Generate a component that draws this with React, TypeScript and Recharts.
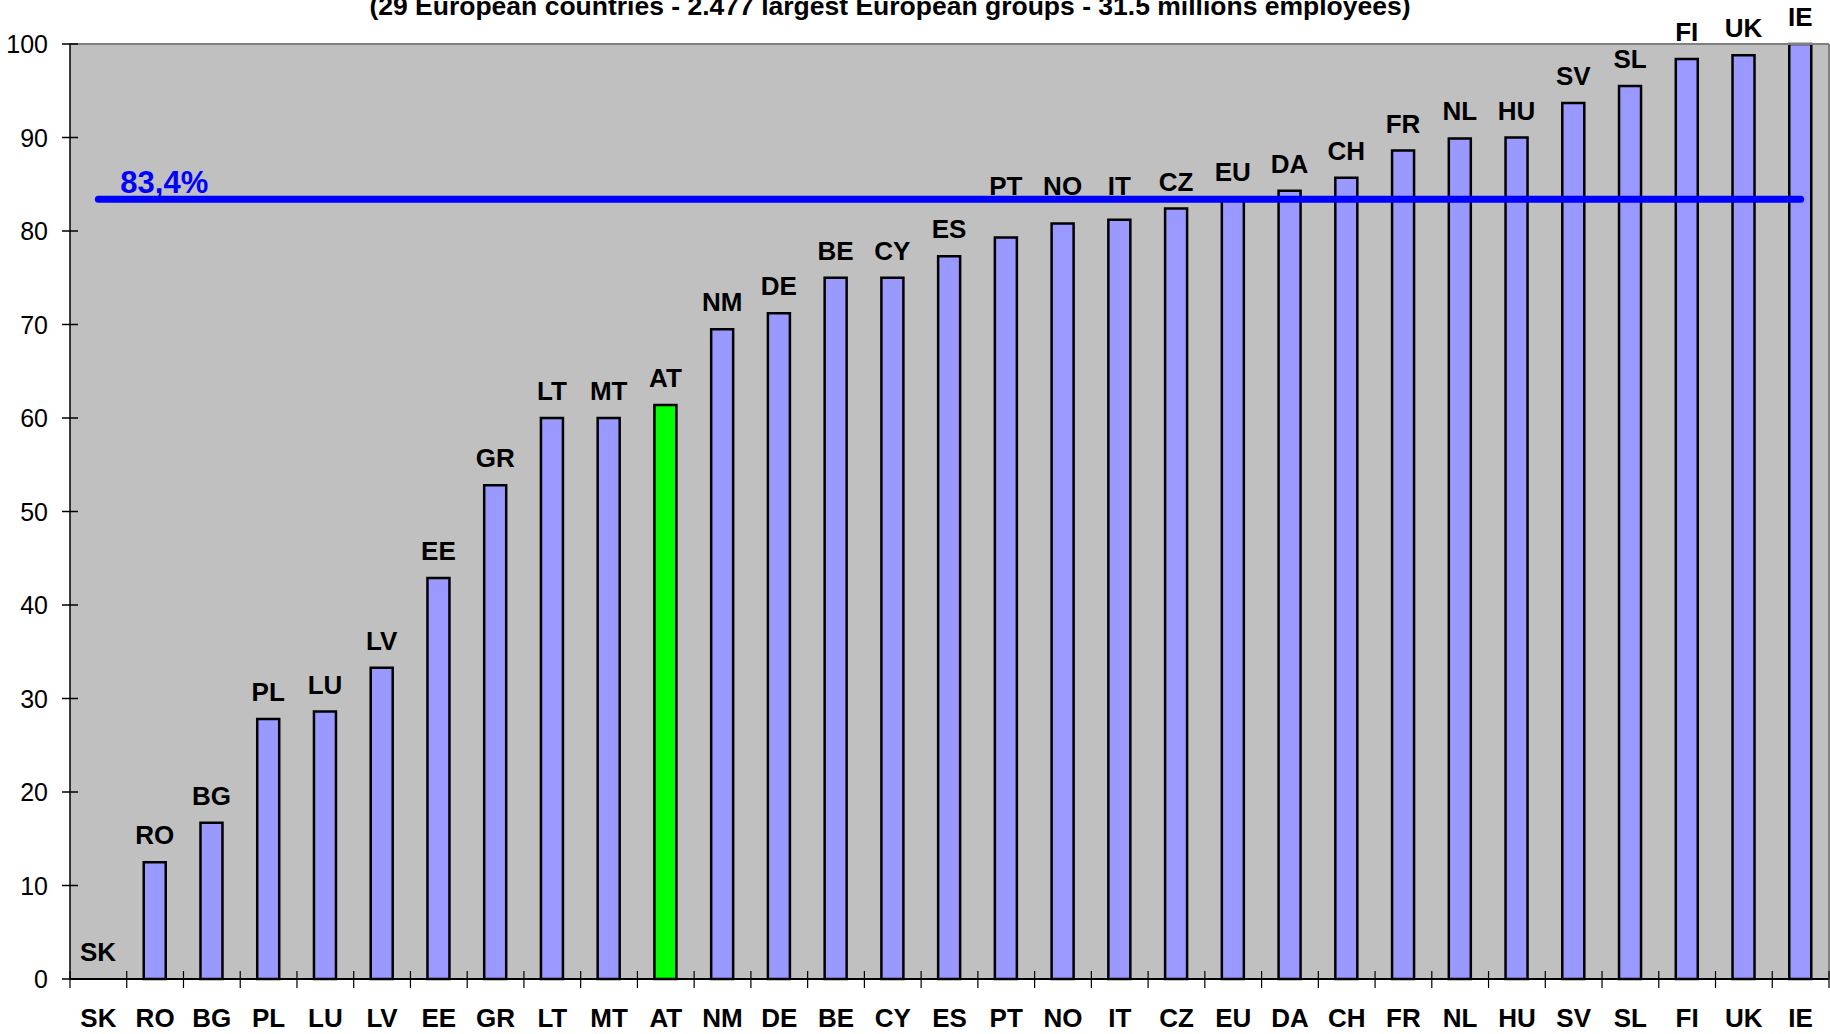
import { BarChart, Bar, XAxis, YAxis, CartesianGrid, ReferenceLine, LabelList, Cell } from 'recharts'

const countries = ['SK', 'RO', 'BG', 'PL', 'LU', 'LV', 'EE', 'GR', 'LT', 'MT', 'AT', 'NM', 'DE', 'BE', 'CY', 'ES', 'PT', 'NO', 'IT', 'CZ', 'EU', 'DA', 'CH', 'FR', 'NL', 'HU', 'SV', 'SL', 'FI', 'UK', 'IE']
const shares = [0, 12.5, 16.7, 27.8, 28.6, 33.3, 42.9, 52.8, 60.0, 60.0, 61.4, 69.5, 71.2, 75.0, 75.0, 77.3, 79.3, 80.8, 81.2, 82.4, 83.4, 84.3, 85.7, 88.6, 89.9, 90.0, 93.7, 95.5, 98.4, 98.8, 100]
const yTicks = [0, 10, 20, 30, 40, 50, 60, 70, 80, 90, 100]
const average = 83.4
const averageLabel = '83,4%'
const highlighted = 'AT'
const subtitle = '(29 European countries - 2.477 largest European groups - 31.5 millions employees)'

const data = countries.map((c, i) => ({ country: c, value: shares[i] }))

const FONT = '"Liberation Sans", Arial, Helvetica, sans-serif'
const W = 1830
const H = 1034
const PLOT_LEFT = 70
const PLOT_RIGHT = 1829
const BAND = (PLOT_RIGHT - PLOT_LEFT) / countries.length

// pixel height of the average line, labels that would sit on it get lifted above it
let avgLineY = 199

const YTick = ({ x, y, payload }: any) => (
  <g>
    <line x1={x - 8} x2={x + 8} y1={y} y2={y} stroke="#000" strokeWidth={1.5} />
    <text x={x - 22} y={y} dy="0.36em" textAnchor="end" fontSize={25} fontFamily={FONT} fill="#000">
      {payload.value}
    </text>
  </g>
)

const XTick = ({ x, y, payload, index }: any) => (
  <g>
    <line x1={x - BAND / 2} x2={x - BAND / 2} y1={y - 8} y2={y + 9} stroke="#000" strokeWidth={1.2} />
    {index === countries.length - 1 && (
      <line x1={x + BAND / 2} x2={x + BAND / 2} y1={y - 8} y2={y + 9} stroke="#000" strokeWidth={1.2} />
    )}
    <text x={x} y={y + 48} textAnchor="middle" fontSize={26} fontWeight="bold" fontFamily={FONT} fill="#000">
      {payload.value}
    </text>
  </g>
)

const BarLabel = (props: any) => {
  const { x, y, width, height, value } = props
  // SK has no bar: its label sits just above the zero line
  const top = height < 2 ? y + height : y
  let base = top - 18
  if (base > avgLineY - 4 && base < avgLineY + 30) base = avgLineY - 4
  return (
    <text x={x + width / 2} y={base} textAnchor="middle" fontSize={26} fontWeight="bold" fontFamily={FONT} fill="#000">
      {value}
    </text>
  )
}

const AverageLine = (props: any) => {
  const { x1, y1, x2, y2 } = props
  avgLineY = y1
  return (
    <g>
      <line x1={x1} y1={y1} x2={x2} y2={y2} stroke="#0000FF" strokeWidth={7} strokeLinecap="round" />
      <text x={x1 + 22} y={y1 - 6} fontSize={31} fontWeight="bold" fontFamily={FONT} fill="#0000FF">
        {averageLabel}
      </text>
    </g>
  )
}

const cellFill = (c: string, v: number) => (v === 0 ? 'none' : c === highlighted ? '#00FF00' : '#9999FF')

export default function App() {
  return (
    <div style={{ position: 'absolute', left: 0, top: 0, width: W, height: H, background: '#fff' }}>
      <svg width={W} height={40} style={{ position: 'absolute', left: 0, top: 0 }}>
        <text x={890} y={15} textAnchor="middle" fontSize={26.5} fontWeight="bold" fontFamily={FONT} fill="#000">
          {subtitle}
        </text>
      </svg>
      <BarChart width={W} height={H} data={data} margin={{ top: 44, right: 0, bottom: 0, left: 0 }} barSize={22}>
        <CartesianGrid fill="#C0C0C0" stroke="none" horizontal={false} vertical={false} />
        <XAxis
          dataKey="country"
          height={55}
          interval={0}
          tickSize={0}
          tickMargin={0}
          tickLine={false}
          axisLine={{ stroke: '#000', strokeWidth: 2 }}
          tick={<XTick />}
        />
        <YAxis
          domain={[0, 100]}
          ticks={yTicks}
          width={70}
          tickSize={0}
          tickMargin={0}
          tickLine={false}
          axisLine={{ stroke: '#000', strokeWidth: 1.5 }}
          tick={<YTick />}
        />
        <YAxis
          yAxisId="right"
          orientation="right"
          domain={[0, 100]}
          width={1}
          tick={false}
          tickLine={false}
          axisLine={{ stroke: '#808080', strokeWidth: 2 }}
        />
        <ReferenceLine y={100} stroke="#808080" strokeWidth={2} />
        <ReferenceLine
          segment={[{ x: countries[0], y: average }, { x: countries[countries.length - 1], y: average }]}
          shape={<AverageLine />}
        />
        <Bar
          dataKey="value"
          stroke="#000"
          strokeWidth={2.5}
          minPointSize={(v: number) => (v === 0 ? 1 : 0)}
          isAnimationActive={false}
        >
          {data.map((d) => (
            <Cell
              key={d.country}
              fill={cellFill(d.country, d.value)}
              stroke={d.value === 0 ? 'none' : '#000'}
            />
          ))}
          <LabelList dataKey="country" content={<BarLabel />} />
        </Bar>
      </BarChart>
    </div>
  )
}
